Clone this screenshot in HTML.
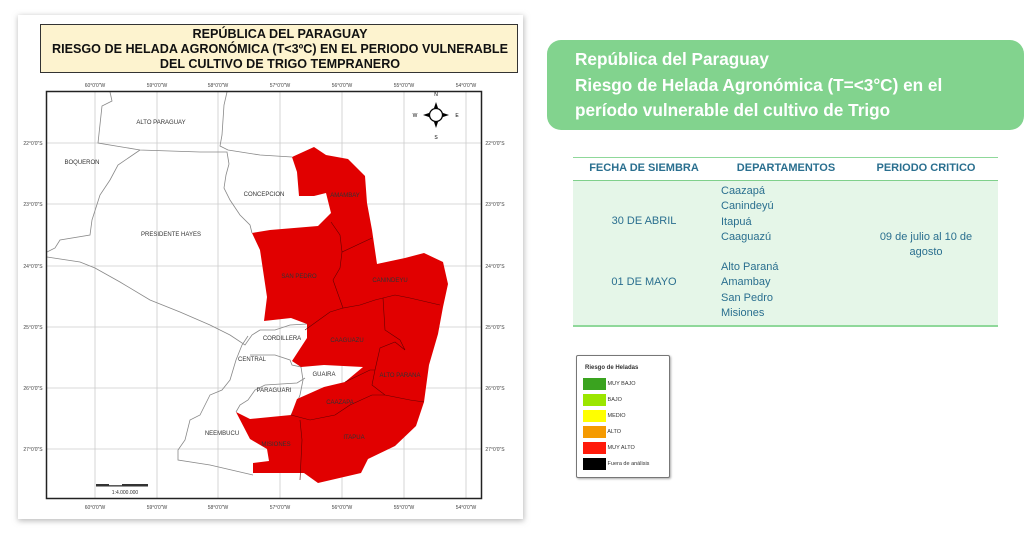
<!DOCTYPE html>
<html><head><meta charset="utf-8"><style>
body{margin:0;width:1024px;height:536px;background:#fff;position:relative;overflow:hidden;font-family:"Liberation Sans",sans-serif}
.a{position:absolute}
.tb{color:#2a6f8f;font-size:11px;line-height:15.3px}
</style></head><body>
<svg class="a" style="left:0;top:0" width="540" height="536" viewBox="0 0 540 536">
<defs><filter id="sh" x="-5%" y="-5%" width="110%" height="110%"><feGaussianBlur stdDeviation="3"/></filter></defs>
<rect x="18" y="16" width="506" height="505" fill="#bbb" filter="url(#sh)"/>
<rect x="18" y="15" width="505" height="504" fill="#fff"/>
<rect x="40.5" y="24.5" width="477" height="48" fill="#fdf3cf" stroke="#333" stroke-width="1"/>
<g font-family="Liberation Sans" font-weight="bold" font-size="12.6" text-anchor="middle" fill="#111">
<text x="280" y="38">REPÚBLICA DEL PARAGUAY</text>
<text x="280" y="53">RIESGO DE HELADA AGRONÓMICA (T&lt;3ºC) EN EL PERIODO VULNERABLE</text>
<text x="280" y="68">DEL CULTIVO DE TRIGO TEMPRANERO</text>
</g>
<g stroke="#ccc" stroke-width="0.8">
<line x1="95" y1="92" x2="95" y2="498"/><line x1="157" y1="92" x2="157" y2="498"/><line x1="218" y1="92" x2="218" y2="498"/><line x1="280" y1="92" x2="280" y2="498"/><line x1="342" y1="92" x2="342" y2="498"/><line x1="404" y1="92" x2="404" y2="498"/><line x1="466" y1="92" x2="466" y2="498"/>
<line x1="47" y1="143" x2="481" y2="143"/><line x1="47" y1="204" x2="481" y2="204"/><line x1="47" y1="266" x2="481" y2="266"/><line x1="47" y1="327" x2="481" y2="327"/><line x1="47" y1="388" x2="481" y2="388"/><line x1="47" y1="449" x2="481" y2="449"/>
</g>
<g fill="none" stroke="#888" stroke-width="0.8">
<polyline points="110,92 112,101 102,106 98,143 140,150 200,152 227,152 229,164"/>
<polyline points="227,92 224,105 222,135 220,146 228,150 260,155 292,157"/>
<polyline points="140,150 118,165 110,180 100,195 92,220 90,235 60,240 55,248 47,252"/>
<polyline points="47,257 80,262 95,268 120,282 150,300 180,312 210,325 230,335 245,345 252,335 260,330"/>
<polyline points="229,164 226,175 224,188 230,200 240,215 250,225 252,233"/>
<polyline points="248,336 242,345 236,360 230,380 222,390 210,395 200,415 190,420 185,440 178,450 178,460 210,465 253,475"/>
<polyline points="260,330 275,330 290,325 307,324"/>
<polyline points="250,355 275,355 290,360 292,365 301,367 303,380 300,395 296,405 291,415"/>
<polyline points="236,412 240,405 248,400 255,390 265,385 297,383 305,378"/>
</g>
<polygon fill="#e10000" points="292,157 314,147 326,155 348,159 365,176 367,203 372,230 377,264 405,258 424,253 443,262 448,284 443,307 438,334 429,365 424,402 416,426 395,446 368,459 361,473 318,483 304,473 253,473 253,463 269,461 267,449 250,439 236,412 250,419 291,415 297,399 324,387 345,382 363,367 324,365 301,367 292,361 307,338 307,324 291,318 264,321 267,297 260,250 252,233 270,230 318,226 331,213 326,193 314,196 299,196 297,172"/>
<g fill="none" stroke="#600" stroke-width="0.6">
<polyline points="331,222 340,235 342,252 372,238"/>
<polyline points="342,252 340,268 333,280 343,308 360,305 375,300 395,295 410,298 440,305"/>
<polyline points="305,330 330,312 343,308"/>
<polyline points="383,298 385,330 400,340 405,350 395,342 380,348 375,370 372,385 385,395 410,400 424,402"/>
<polyline points="345,382 370,370 375,370"/>
<polyline points="291,415 310,420 335,415 350,405 372,395 385,395"/>
<polyline points="300,420 302,440 300,480"/>
</g>
<rect x="46.5" y="91.5" width="435" height="407" fill="none" stroke="#222" stroke-width="1.5"/>
<g font-size="5" fill="#444" text-anchor="middle">
<text x="95" y="87">60°0'0"W</text><text x="157" y="87">59°0'0"W</text><text x="218" y="87">58°0'0"W</text><text x="280" y="87">57°0'0"W</text><text x="342" y="87">56°0'0"W</text><text x="404" y="87">55°0'0"W</text><text x="466" y="87">54°0'0"W</text>
<text x="95" y="509">60°0'0"W</text><text x="157" y="509">59°0'0"W</text><text x="218" y="509">58°0'0"W</text><text x="280" y="509">57°0'0"W</text><text x="342" y="509">56°0'0"W</text><text x="404" y="509">55°0'0"W</text><text x="466" y="509">54°0'0"W</text>
<text x="33" y="145">22°0'0"S</text><text x="33" y="206">23°0'0"S</text><text x="33" y="268">24°0'0"S</text><text x="33" y="329">25°0'0"S</text><text x="33" y="390">26°0'0"S</text><text x="33" y="451">27°0'0"S</text>
<text x="495" y="145">22°0'0"S</text><text x="495" y="206">23°0'0"S</text><text x="495" y="268">24°0'0"S</text><text x="495" y="329">25°0'0"S</text><text x="495" y="390">26°0'0"S</text><text x="495" y="451">27°0'0"S</text>
</g>
<g font-size="6" fill="#333" text-anchor="middle">
<text x="161" y="124">ALTO PARAGUAY</text><text x="82" y="164">BOQUERON</text><text x="264" y="196">CONCEPCION</text><text x="171" y="236">PRESIDENTE HAYES</text>
<text x="345" y="197">AMAMBAY</text><text x="299" y="278">SAN PEDRO</text><text x="390" y="282">CANINDEYU</text><text x="282" y="340">CORDILLERA</text>
<text x="347" y="342">CAAGUAZU</text><text x="252" y="361">CENTRAL</text><text x="324" y="376">GUAIRA</text><text x="400" y="377">ALTO PARANA</text>
<text x="274" y="392">PARAGUARI</text><text x="340" y="404">CAAZAPA</text><text x="222" y="435">NEEMBUCU</text><text x="276" y="446">MISIONES</text><text x="354" y="439">ITAPUA</text>
</g>
<g transform="translate(436,115)">
<circle r="6.5" fill="#fff" stroke="#000" stroke-width="1.3"/>
<path d="M0,-13 L2,-7 L-2,-7Z M0,13 L2,7 L-2,7Z M-13,0 L-7,2 L-7,-2Z M13,0 L7,2 L7,-2Z" fill="#000"/>
<text x="0" y="-19" font-size="5" text-anchor="middle">N</text><text x="0" y="24" font-size="5" text-anchor="middle">S</text>
<text x="-21" y="2" font-size="5" text-anchor="middle">W</text><text x="21" y="2" font-size="5" text-anchor="middle">E</text>
</g>
<rect x="96" y="484" width="52" height="2.5" fill="#333"/><rect x="109" y="484" width="13" height="1.2" fill="#fff"/>
<text x="125" y="494" font-size="5" text-anchor="middle" fill="#333">1:4.000.000</text>
</svg>

<div class="a" style="left:547px;top:40px;width:477px;height:90px;background:#82d38e;border-radius:14px"></div>
<div class="a" style="left:575px;top:47px;color:#fff;font-weight:bold;font-size:17.2px;line-height:25.5px;white-space:nowrap">República del Paraguay<br>Riesgo de Helada Agronómica (T=&lt;3°C) en el<br>período vulnerable del cultivo de Trigo</div>

<div class="a" style="left:573px;top:157px;width:425px;height:1px;background:#8fd89a"></div>
<div class="a" style="left:573px;top:180px;width:425px;height:144px;background:#e5f6e8;border-top:1px solid #7fd08b;border-bottom:2px solid #8fd89a"></div>
<div class="a tb" style="left:573px;top:161px;width:142px;text-align:center;font-weight:bold">FECHA DE SIEMBRA</div>
<div class="a tb" style="left:715px;top:161px;width:142px;text-align:center;font-weight:bold">DEPARTAMENTOS</div>
<div class="a tb" style="left:855px;top:161px;width:142px;text-align:center;font-weight:bold">PERIODO CRITICO</div>
<div class="a tb" style="left:573px;top:214px;width:142px;text-align:center">30 DE ABRIL</div>
<div class="a tb" style="left:573px;top:275px;width:142px;text-align:center">01 DE MAYO</div>
<div class="a tb" style="left:721px;top:184px">Caazapá<br>Canindeyú<br>Itapuá<br>Caaguazú</div>
<div class="a tb" style="left:721px;top:260px">Alto Paraná<br>Amambay<br>San Pedro<br>Misiones</div>
<div class="a tb" style="left:855px;top:230px;width:142px;text-align:center">09 de julio al 10 de<br>agosto</div>

<div class="a" style="left:576px;top:355px;width:92px;height:121px;border:1px solid #777;border-radius:2px;box-shadow:1px 1px 2px #aaa;background:#fff;font-size:5.5px;color:#333">
<div style="position:absolute;left:8px;top:9px;font-weight:bold;font-size:6px">Riesgo de Heladas</div>
<div style="position:absolute;left:6px;top:20px;line-height:16px">
<div><span style="display:inline-block;width:23px;height:12px;background:#3aa31f;vertical-align:middle"></span> MUY BAJO</div>
<div><span style="display:inline-block;width:23px;height:12px;background:#9be600;vertical-align:middle"></span> BAJO</div>
<div><span style="display:inline-block;width:23px;height:12px;background:#ffff00;vertical-align:middle"></span> MEDIO</div>
<div><span style="display:inline-block;width:23px;height:12px;background:#f59a00;vertical-align:middle"></span> ALTO</div>
<div><span style="display:inline-block;width:23px;height:12px;background:#ff1a0a;vertical-align:middle"></span> MUY ALTO</div>
<div><span style="display:inline-block;width:23px;height:12px;background:#000;vertical-align:middle"></span> Fuera de análisis</div>
</div></div>
</body></html>
